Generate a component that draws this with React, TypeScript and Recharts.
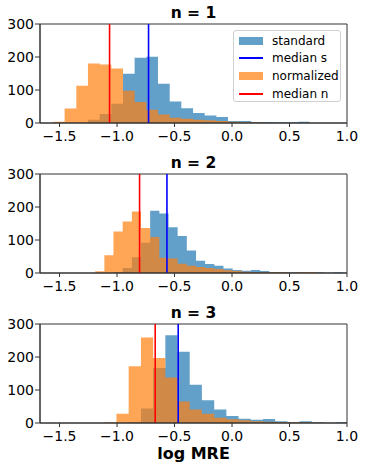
import React from 'react'
import {
  ComposedChart,
  Area,
  XAxis,
  YAxis,
  ReferenceLine,
  ReferenceArea,
  Legend,
} from 'recharts'

// bin edges and counts
const edges1 = [
  -1.557, -1.456, -1.354, -1.253, -1.151, -1.05, -0.948, -0.847, -0.745, -0.644, -0.542, -0.441,
  -0.339, -0.238, -0.136, -0.035, 0.067, 0.168, 0.27, 0.371, 0.473, 0.574, 0.676,
]
const standard1 = [0, 0, 1, 10, 27, 58, 149, 198, 201, 119, 65, 45, 30, 23, 18, 6, 6, 3, 3, 2, 2, 4]
const normalized1 = [4, 44, 113, 180, 177, 165, 98, 64, 40, 26, 16, 13, 10, 8, 6, 4, 3, 2, 0, 0, 0, 0]

const edges2 = [
  -1.19, -1.11, -1.031, -0.951, -0.871, -0.792, -0.712, -0.632, -0.552, -0.473, -0.393, -0.313,
  -0.234, -0.154, -0.074, 0.006, 0.085, 0.165, 0.245, 0.324, 0.404, 0.484, 0.564, 0.643, 0.723,
  0.803, 0.882, 0.962, 1.042,
]
const standard2 = [0, 0, 3, 15, 48, 92, 189, 180, 139, 112, 68, 37, 27, 22, 14, 9, 7, 9, 6, 3, 3, 2, 2, 1, 2, 1, 2, 1]
const normalized2 = [5, 54, 126, 156, 186, 136, 109, 46, 44, 28, 22, 18, 15, 12, 8, 6, 4, 3, 2, 3, 2, 1, 2, 3, 1, 0, 0, 0]

const edges3 = [
  -1.111, -1.005, -0.899, -0.792, -0.686, -0.58, -0.474, -0.368, -0.262, -0.155, -0.049, 0.057,
  0.163, 0.269, 0.375, 0.482, 0.588, 0.694, 0.8, 0.906, 1.012,
]
const standard3 = [0, 0, 2, 44, 167, 266, 216, 116, 69, 41, 21, 13, 10, 12, 5, 2, 5, 2, 1, 2]
const normalized3 = [2, 28, 172, 259, 197, 138, 65, 41, 28, 16, 11, 8, 5, 4, 3, 2, 2, 1, 0, 0]

const mediansStandard = [-0.726, -0.566, -0.468]
const mediansNormalized = [-1.065, -0.804, -0.668]
const titles = ['n = 1', 'n = 2', 'n = 3']

const xTicks = [-1.5, -1.0, -0.5, 0.0, 0.5, 1.0]
const yTicks = [0, 100, 200, 300]
const xDomain = [-1.67, 1.0]

const legendItems = [
  { label: 'standard', kind: 'patch', color: '#1f77b4' },
  { label: 'median s', kind: 'line', color: '#0000ff' },
  { label: 'normalized', kind: 'patch', color: '#ff7f0e' },
  { label: 'median n', kind: 'line', color: '#ff0000' },
]

const panels = [
  { edges: edges1, standard: standard1, normalized: normalized1 },
  { edges: edges2, standard: standard2, normalized: normalized2 },
  { edges: edges3, standard: standard3, normalized: normalized3 },
]

const fmt = (v: number) => (v < 0 ? '\u2212' + Math.abs(v).toFixed(1) : v.toFixed(1))

function HistLegend() {
  return (
    <div
      style={{
        width: 108,
        height: 72,
        border: '1px solid #d0d0d0',
        borderRadius: 3,
        background: 'rgba(255,255,255,0.8)',
        boxSizing: 'border-box',
        paddingTop: 1,
      }}
    >
      {legendItems.map((item) => (
        <div key={item.label} style={{ display: 'flex', alignItems: 'center', height: 17.6, fontSize: 12 }}>
          <div style={{ width: 24, marginLeft: 5, marginRight: 9, display: 'flex', alignItems: 'center' }}>
            {item.kind === 'patch' ? (
              <div style={{ width: 24, height: 8, background: item.color, opacity: 0.7 }} />
            ) : (
              <div style={{ width: 24, height: 2, background: item.color }} />
            )}
          </div>
          <span style={{ color: '#000' }}>{item.label}</span>
        </div>
      ))}
    </div>
  )
}

function Panel({ index }: { index: number }) {
  const p = panels[index]
  const data = p.edges.map((x, i) => ({
    x,
    s: p.standard[i] ?? 0,
    n: p.normalized[i] ?? 0,
  }))
  return (
    <div style={{ position: 'absolute', left: 0, top: index * 150, width: 366, height: 150 }}>
      <div
        style={{
          position: 'absolute',
          left: 40,
          width: 307,
          top: 5,
          textAlign: 'center',
          fontWeight: 'bold',
          fontSize: 15.5,
          lineHeight: '16px',
        }}
      >
        {titles[index]}
      </div>
      <ComposedChart width={366} height={150} data={data} margin={{ top: 24, right: 19, bottom: 0, left: 0 }}>
        <XAxis
          dataKey="x"
          type="number"
          domain={xDomain}
          allowDataOverflow
          ticks={xTicks}
          tickFormatter={fmt}
          height={27}
          tickSize={4}
          tickMargin={4}
          tick={{ fill: '#000', fontSize: 14 }}
          stroke="#333"
        />
        <YAxis
          type="number"
          domain={[0, 300]}
          ticks={yTicks}
          width={40}
          tickSize={5}
          tickMargin={1}
          tick={{ fill: '#000', fontSize: 14 }}
          stroke="#333"
        />
        <Area
          type="stepAfter"
          dataKey="s"
          stroke="none"
          fill="#1f77b4"
          fillOpacity={0.7}
          dot={false}
          activeDot={false}
          isAnimationActive={false}
        />
        <Area
          type="stepAfter"
          dataKey="n"
          stroke="none"
          fill="#ff7f0e"
          fillOpacity={0.7}
          dot={false}
          activeDot={false}
          isAnimationActive={false}
        />
        <ReferenceLine x={mediansStandard[index]} stroke="#0000ff" strokeWidth={1.6} />
        <ReferenceLine x={mediansNormalized[index]} stroke="#ff0000" strokeWidth={1.6} />
        <ReferenceArea
          x1={xDomain[0]}
          x2={xDomain[1]}
          y1={0}
          y2={300}
          fill="none"
          stroke="#333"
          strokeWidth={1}
          ifOverflow="visible"
        />
        {index === 0 && (
          <Legend
            layout="horizontal"
            verticalAlign="middle"
            align="center"
            content={() => <HistLegend />}
            wrapperStyle={{ left: 233, top: 30, width: 108, height: 72 }}
          />
        )}
      </ComposedChart>
    </div>
  )
}

export default function App() {
  return (
    <div
      style={{
        position: 'absolute',
        left: 0,
        top: 0,
        width: 366,
        height: 470,
        background: '#fff',
        fontFamily: '"DejaVu Sans", sans-serif',
      }}
    >
      <Panel index={0} />
      <Panel index={1} />
      <Panel index={2} />
      <div
        style={{
          position: 'absolute',
          left: 40,
          width: 307,
          top: 445.5,
          textAlign: 'center',
          fontWeight: 'bold',
          fontSize: 16,
          lineHeight: '16px',
        }}
      >
        log MRE
      </div>
    </div>
  )
}
